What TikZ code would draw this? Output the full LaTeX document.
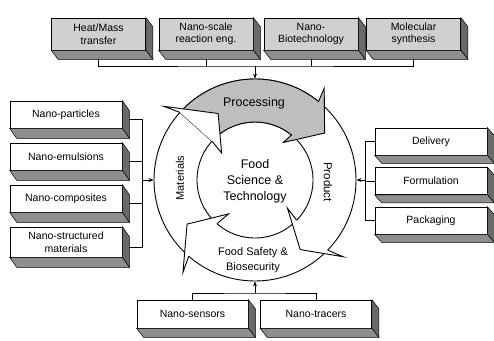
\documentclass[tikz,border=0pt]{standalone}
\usepackage{fontspec}
\setmainfont{Liberation Sans}
\usetikzlibrary{arrows.meta,calc}
\definecolor{faceGray}{HTML}{D0D0D0}
\definecolor{sideGray}{HTML}{6A6A6A}
\definecolor{baseGray}{HTML}{8E8E8E}
\definecolor{procGray}{HTML}{BEBEBE}
\tikzset{
	blk/.style={draw, fill=white, line width=0.7pt, inner sep=1pt, align=center,
		font=\fontsize{10.5}{12.5}\selectfont},
	topblk/.style={blk, fill=faceGray, minimum width=94pt, minimum height=32pt},
	sideblk/.style={blk, minimum width=112pt, minimum height=27pt},
	lnk/.style={line width=0.7pt},
	ring/.style={line width=0.9pt},
	lab/.style={inner sep=0, align=center, font=\fontsize{11}{13}\selectfont}
}
% shaded depth faces below and right of a block
\newcommand{\blockdepth}[2][9pt]{%
	\filldraw[fill=sideGray, line width=0.5pt] (#2.north east) -- ++(7pt,-#1)
		-- ($(#2.south east)+(7pt,-#1)$) -- (#2.south east) -- cycle;
	\filldraw[fill=baseGray, line width=0.5pt] (#2.south west) -- ++(7pt,-#1)
		-- ($(#2.south east)+(7pt,-#1)$) -- (#2.south east) -- cycle;
}
\begin{document}
\begin{tikzpicture}[x=1pt, y=-1pt, >={Stealth[length=5pt,width=4pt]}]
	\useasboundingbox (0,0) rectangle (494,340);
	% processing blocks
	\node[topblk] (p1) at (98.5,34) {Heat/Mass\\transfer};
	\node[topblk] (p2) at (206,34) {Nano-scale\\reaction eng.};
	\node[topblk] (p3) at (311,34) {Nano-\\Biotechnology};
	\node[topblk] (p4) at (413.5,34) {Molecular\\synthesis};
	\foreach \n in {p1,p2,p3,p4} {\blockdepth{\n}}
	% material blocks
	\node[sideblk] (m1) at (66,114.5) {Nano-particles};
	\node[sideblk] (m2) at (66,156.5) {Nano-emulsions};
	\node[sideblk] (m3) at (66,198.5) {Nano-composites};
	\node[sideblk, minimum height=30pt] (m4) at (66,242) {Nano-structured\\materials};
	\foreach \n in {m1,m2,m3,m4} {\blockdepth[10pt]{\n}}
	% product blocks
	\node[sideblk] (d1) at (431,141.5) {Delivery};
	\node[sideblk] (d2) at (431,181) {Formulation};
	\node[sideblk] (d3) at (431,220.5) {Packaging};
	\foreach \n in {d1,d2,d3} {\blockdepth[8pt]{\n}}
	% safety blocks
	\node[sideblk, minimum width=111pt, minimum height=28pt] (s1) at (192.5,314) {Nano-sensors};
	\node[sideblk, minimum width=111pt, minimum height=28pt] (s2) at (316,314) {Nano-tracers};
	\foreach \n in {s1,s2} {\blockdepth{\n}}

	% the cycle
	\node[draw, ring, circle, fill=white, minimum size=202pt, inner sep=0] (ring) at (255,180) {};
	\begin{scope}[shift={(ring.center)}, x=1pt, y=1pt]
		\draw[ring] (0,0) circle (58);
		\filldraw[ring, fill=procGray] (138:101) arc[start angle=138, end angle=51, radius=101]
			-- (53:115) -- (34:84) -- (53:47) -- (51:58)
			arc[start angle=51, end angle=138, radius=58] -- cycle;
		\foreach \b/\t/\r in {138/119/76, 316/303/83, 229/213/81} {
			\fill[white] (\b:101) -- ({\b+3}:117) -- (\t:\r) -- ({\b+3}:43) -- (\b:58) -- cycle;
			\draw[ring] (\b:101) -- ({\b+3}:117) -- (\t:\r) -- ({\b+3}:43) -- (\b:58);
		}
	\end{scope}
	\node[lab, font=\fontsize{12.5}{15}\selectfont] (proc) at (254,103) {Processing};
	\node[lab, rotate=90] (mat) at (180,178) {Materials};
	\node[lab, rotate=-90, font=\fontsize{11.5}{13}\selectfont] (prod) at (328,182) {Product};
	\node[lab, font=\fontsize{11}{15}\selectfont] (safe) at (253,260) {Food Safety \&\\Biosecurity};
	\node[lab, font=\fontsize{12.5}{16}\selectfont] (core) at (255,181) {Food\\Science \&\\Technology};

	% connectors
	\coordinate (tj) at (255,66);
	\coordinate (lj) at (142,180);
	\coordinate (rj) at (365,180);
	\coordinate (bj) at (255,293);
	\draw[lnk] ($(p1.south)+(0,9)$) |- (tj) -| ($(p4.south)+(0,9)$);
	\foreach \n in {p2,p3} \draw[lnk] ($(\n.south)+(0,9)$) -- (\n.south |- tj);
	\draw[lnk, ->] (tj) -- (ring.north);
	\foreach \n in {m1,m2,m3,m4} \draw[lnk] ($(\n.east)+(7pt,-5pt)$) -| (lj);
	\draw[lnk, ->] (lj) -- (ring.west);
	\foreach \n in {d1,d2,d3} \draw[lnk] (\n.west) -| (rj);
	\draw[lnk, ->] (rj) -- (ring.east);
	\draw[lnk] (s1.north) |- (bj) -| (s2.north);
	\draw[lnk, ->] (bj) -- (ring.south);
\end{tikzpicture}
\end{document}
